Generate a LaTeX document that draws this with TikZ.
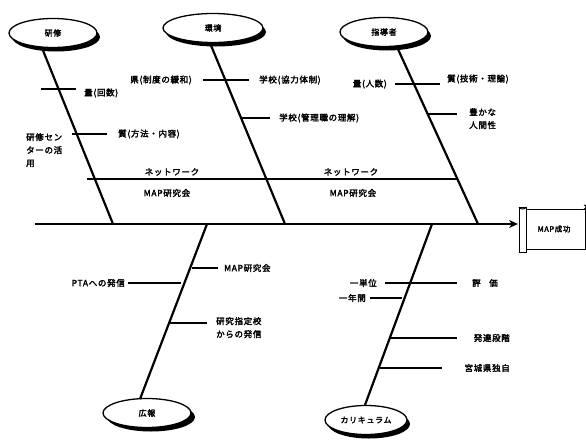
\documentclass[tikz,border=0pt]{standalone}
\usepackage{fontspec}
\newfontfamily\jp{Noto Sans CJK JP}[FakeBold=2.5,LetterSpace=8]
\usetikzlibrary{shapes.geometric,arrows.meta}
\tikzset{
  cat/.style={ellipse,draw=black,line width=1.3pt,fill=white,minimum width=88pt,minimum height=29pt,inner sep=0pt,font=\jp\fontsize{8}{9}\selectfont},
  shadowel/.style={ellipse,fill=black,minimum width=88pt,minimum height=29pt,inner sep=0pt},
  bone/.style={line width=2.2pt,line cap=butt},
  twig/.style={line width=1.1pt},
  lbl/.style={inner sep=0pt,font=\jp\fontsize{8.5}{13}\selectfont},
}
\begin{document}
\begin{tikzpicture}[x=1pt,y=-1pt]
\useasboundingbox (0,0) rectangle (586,439);
% category ellipses with shadows
\node[shadowel] at (56,37) {};
\node[cat] (e1) at (53,33) {研修};
\node[shadowel,minimum width=100pt] at (216,32) {};
\node[cat,minimum width=100pt] (e2) at (213,28) {環境};
\node[shadowel] at (387,36) {};
\node[cat] (e3) at (384,32) {指導者};
\node[shadowel] at (151,417) {};
\node[cat] (e4) at (147,413) {広報};
\node[shadowel,minimum width=82pt] at (369,424) {};
\node[cat,minimum width=82pt] (e5) at (366,420) {カリキュラム};
% effect box (scroll)
\node[draw,line width=1pt,minimum width=62pt,minimum height=40pt,inner sep=0pt,font=\jp\fontsize{7.5}{9}\selectfont] (goal) at (554,229) {MAP成功};
\draw[line width=1pt,fill=white] (519,207) rectangle (526,252);
\draw[line width=1pt] (519,207) arc (180:0:3.5 and 2);
\draw[line width=1pt] (584,209) arc (-90:90:2 and -2);
% spine
\coordinate (sL) at (35,224);
\draw[line width=2.6pt,-{Stealth[length=9pt,width=8pt]}] (sL) -- (518,224);
% bones
\coordinate (b1t) at (42,48); \coordinate (b1b) at (113,224);
\coordinate (b2t) at (210,43); \coordinate (b2b) at (285,224);
\coordinate (b3t) at (397,47); \coordinate (b3b) at (478,224);
\coordinate (b4t) at (207,224); \coordinate (b4b) at (140,399);
\coordinate (b5t) at (432,224); \coordinate (b5b) at (365,405);
\draw[bone] (b1t) -- (b1b);
\draw[bone] (b2t) -- (b2b);
\draw[bone] (b3t) -- (b3b);
\draw[bone] (b4t) -- (b4b);
\draw[bone] (b5t) -- (b5b);
% network line
\coordinate (n1) at (87,179); \coordinate (n2) at (457,179);
\draw[twig] (n1) -- (n2);
\node[lbl] (nw1) at (172,172) {ネットワーク};
\node[lbl] (nw2) at (351,172) {ネットワーク};
\node[lbl] (mp1) at (167,193) {MAP研究会};
\node[lbl] (mp2) at (353,193) {MAP研究会};
% 研修 twigs
\coordinate (t1a) at (41,89); \coordinate (t1b) at (76,89);
\draw[twig] (t1a) -- (t1b);
\node[lbl,anchor=west] (l1) at (84,93) {量(回数)};
\coordinate (t2a) at (72,134); \coordinate (t2b) at (107,134);
\draw[twig] (t2a) -- (t2b);
\node[lbl,anchor=west] (l2) at (118,134) {質(方法・内容)};
\node[lbl,anchor=north west,align=left] (l3) at (26,133) {研修セン\\ターの活\\用};
% 環境 twigs
\coordinate (t3a) at (203,80); \coordinate (t3b) at (249,80);
\draw[twig] (t3a) -- (t3b);
\node[lbl,anchor=east] (l4) at (192,80) {県(制度の緩和)};
\node[lbl,anchor=west] (l5) at (259,80) {学校(協力体制)};
\coordinate (t4a) at (242,118); \coordinate (t4b) at (270,118);
\draw[twig] (t4a) -- (t4b);
\node[lbl,anchor=west] (l6) at (279,118) {学校(管理職の理解)};
% 指導者 twigs
\coordinate (t5a) at (395,84); \coordinate (t5b) at (440,84);
\draw[twig] (t5a) -- (t5b);
\node[lbl,anchor=east] (l7) at (387,84) {量(人数)};
\node[lbl,anchor=west] (l8) at (447,79) {質(技術・理論)};
\coordinate (t6a) at (428,114); \coordinate (t6b) at (457,114);
\draw[twig] (t6a) -- (t6b);
\node[lbl,anchor=north west,align=left] (l9) at (469,108) {豊かな\\人間性};
% 広報 twigs
\coordinate (t7a) at (192,268); \coordinate (t7b) at (218,268);
\draw[twig] (t7a) -- (t7b);
\node[lbl,anchor=west] (l10) at (224,268) {MAP研究会};
\coordinate (t8a) at (128,283); \coordinate (t8b) at (181,283);
\draw[twig] (t8a) -- (t8b);
\node[lbl,anchor=east] (l11) at (125,283) {PTAへの発信};
\coordinate (t9a) at (170,323); \coordinate (t9b) at (207,323);
\draw[twig] (t9a) -- (t9b);
\node[lbl,anchor=north west,align=left] (l12) at (216,317) {研究指定校\\からの発信};
% カリキュラム twigs
\coordinate (t10a) at (385,283); \coordinate (t10b) at (457,283);
\draw[twig] (t10a) -- (t10b);
\node[lbl,anchor=east] (l13) at (377,283) {一単位};
\node[lbl,anchor=west] (l14) at (472,283) {評\hspace{1em}価};
\coordinate (t11a) at (370,298); \coordinate (t11b) at (402,298);
\draw[twig] (t11a) -- (t11b);
\node[lbl,anchor=east] (l15) at (366,298) {一年間};
\coordinate (t12a) at (390,338); \coordinate (t12b) at (457,338);
\draw[twig] (t12a) -- (t12b);
\node[lbl,anchor=east] (l16) at (510,338) {発達段階};
\coordinate (t13a) at (380,368); \coordinate (t13b) at (442,368);
\draw[twig] (t13a) -- (t13b);
\node[lbl,anchor=east] (l17) at (510,368) {宮城県独自};
\end{tikzpicture}
\end{document}
